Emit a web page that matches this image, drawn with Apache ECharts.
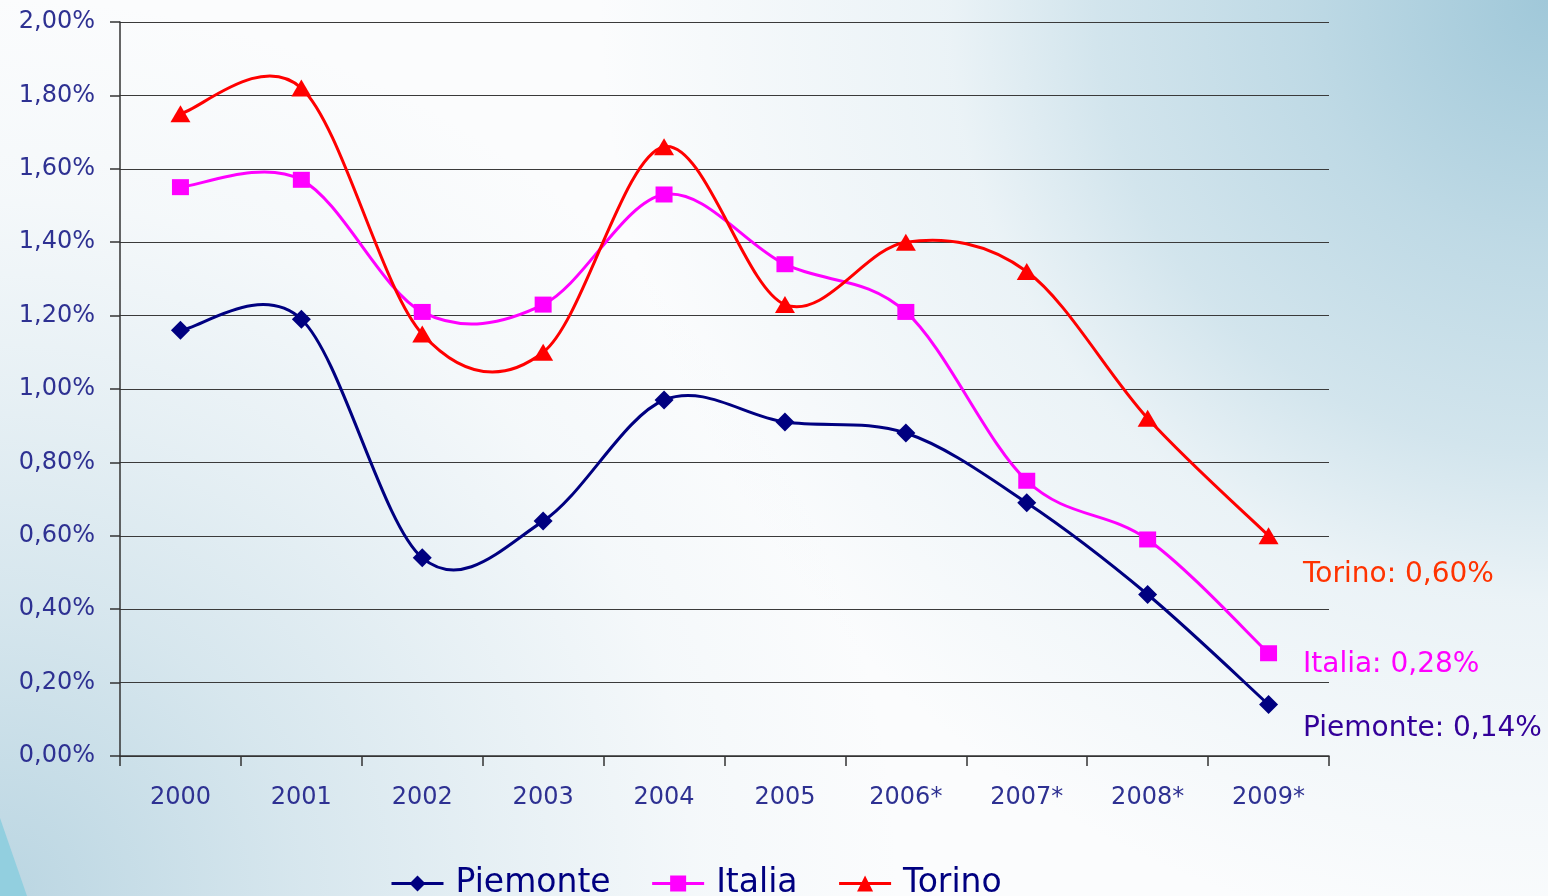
<!DOCTYPE html>
<html>
<head>
<meta charset="utf-8">
<script src="https://cdn.jsdelivr.net/npm/echarts@6/dist/echarts.min.js"></script>
<style>
html,body{margin:0;padding:0;width:1548px;height:896px;overflow:hidden;background:#fff;}
#chart{width:1548px;height:896px;}
</style>
</head>
<body>
<div id="chart"></div>
<script>
var categories = ['2000','2001','2002','2003','2004','2005','2006*','2007*','2008*','2009*'];
var piemonte = [1.16, 1.19, 0.54, 0.64, 0.97, 0.91, 0.88, 0.69, 0.44, 0.14];
var italia   = [1.55, 1.57, 1.21, 1.23, 1.53, 1.34, 1.21, 0.75, 0.59, 0.28];
var torino   = [1.75, 1.82, 1.15, 1.10, 1.66, 1.23, 1.40, 1.32, 0.92, 0.60];
var yTicks = { min: 0, max: 2, interval: 0.2 };
var annotations = [
  { text: 'Torino: 0,60%', color: '#ff3300', y: 572 },
  { text: 'Italia: 0,28%', color: '#ff00ff', y: 662 },
  { text: 'Piemonte: 0,14%', color: '#330099', y: 726 }
];

var FONT = 'DejaVu Sans';
var COLORS = { Piemonte: '#000080', Italia: '#ff00ff', Torino: '#ff0000' };
var chart = echarts.init(document.getElementById('chart'));

function blue(a) { return 'rgba(160,200,217,' + a + ')'; }
function blue2(a) { return 'rgba(170,204,219,' + a + ')'; }

var graphics = [
  { type: 'rect', z: -10, silent: true, shape: { x: 0, y: 0, width: 1548, height: 896 },
    style: { fill: '#fbfcfd' } },
  { type: 'rect', z: -9, silent: true, shape: { x: 0, y: 0, width: 1548, height: 896 },
    style: { fill: new echarts.graphic.RadialGradient(1548, 0, 1000, [
      { offset: 0, color: blue(1) },
      { offset: 0.25, color: blue(0.66) },
      { offset: 0.45, color: blue(0.45) },
      { offset: 0.6, color: blue(0.18) },
      { offset: 0.95, color: blue(0) }], true) } },
  { type: 'rect', z: -9, silent: true, shape: { x: 0, y: 0, width: 1548, height: 896 },
    style: { fill: new echarts.graphic.RadialGradient(0, 896, 900, [
      { offset: 0, color: blue2(0.8) },
      { offset: 0.33, color: blue2(0.45) },
      { offset: 0.55, color: blue2(0.26) },
      { offset: 0.78, color: blue2(0.08) },
      { offset: 1, color: blue2(0) }], true) } },
  { type: 'polygon', z: -8, silent: true,
    shape: { points: [[0, 818], [27, 896], [0, 896]] },
    style: { fill: '#92cfdf' } }
];
annotations.forEach(function (a) {
  graphics.push({ type: 'text', left: 1303, top: a.y - 11, silent: true,
    style: { text: a.text, fill: a.color, font: '28px "' + FONT + '"' } });
});

// Excel-like smoothed curve (Catmull-Rom, tension 1/6) drawn via the axes' coords
function smoothRenderer(values, color) {
  return function (params, api) {
    if (params.dataIndex !== 0) return null;
    var pts = values.map(function (v, i) { return api.coord([i, v]); });
    var n = pts.length, children = [];
    for (var i = 0; i < n - 1; i++) {
      var p0 = pts[Math.max(i - 1, 0)], p1 = pts[i], p2 = pts[i + 1], p3 = pts[Math.min(i + 2, n - 1)];
      children.push({
        type: 'bezierCurve',
        shape: {
          x1: p1[0], y1: p1[1],
          cpx1: p1[0] + (p2[0] - p0[0]) / 6, cpy1: p1[1] + (p2[1] - p0[1]) / 6,
          cpx2: p2[0] - (p3[0] - p1[0]) / 6, cpy2: p2[1] - (p3[1] - p1[1]) / 6,
          x2: p2[0], y2: p2[1]
        },
        style: { stroke: color, lineWidth: 3, fill: null, lineJoin: 'round', lineCap: 'round' }
      });
    }
    return { type: 'group', children: children };
  };
}
function curveSeries(name, values) {
  return {
    name: name, type: 'custom', z: 1, silent: true,
    data: values.map(function (v, i) { return [i, v]; }),
    encode: { x: 0, y: 1 },
    renderItem: smoothRenderer(values, COLORS[name])
  };
}
function markerSeries(name, values, symbol, size) {
  return {
    name: name, type: 'line', data: values, z: 3,
    symbol: symbol, symbolSize: size, showAllSymbol: true,
    lineStyle: { color: COLORS[name], width: 3, opacity: 0 },
    itemStyle: { color: COLORS[name] }
  };
}

chart.setOption({
  animation: false,
  textStyle: { fontFamily: FONT },
  graphic: graphics,
  grid: { left: 120, right: 219, top: 22, bottom: 140, containLabel: false },
  legend: {
    left: 385, top: 862,
    itemWidth: 52, itemHeight: 20, itemGap: 40,
    lineStyle: { width: 3, opacity: 1 },
    textStyle: { color: '#000080', fontSize: 33, fontFamily: FONT, padding: [0, 0, 0, 7] },
    data: ['Piemonte', 'Italia', 'Torino']
  },
  xAxis: {
    type: 'category', data: categories, boundaryGap: true,
    axisLine: { lineStyle: { color: '#333', width: 1.5 } },
    axisTick: { show: true, length: 10, lineStyle: { color: '#333', width: 1.5 } },
    axisLabel: { color: '#2e3192', fontSize: 24, margin: 30, fontFamily: FONT },
    splitLine: { show: false }
  },
  yAxis: {
    type: 'value', min: yTicks.min, max: yTicks.max, interval: yTicks.interval,
    axisLine: { show: true, lineStyle: { color: '#333', width: 1.5 } },
    axisTick: { show: true, length: 10, lineStyle: { color: '#333', width: 1.5 } },
    axisLabel: { color: '#2e3192', fontSize: 24, margin: 25, fontFamily: FONT,
      formatter: function (v) { return v.toFixed(2).replace('.', ',') + '%'; } },
    splitLine: { show: true, lineStyle: { color: '#3a3a3a', width: 1.2 } }
  },
  series: [
    markerSeries('Piemonte', piemonte, 'diamond', 19),
    markerSeries('Italia', italia, 'rect', [17, 16]),
    markerSeries('Torino', torino, 'triangle', [20, 17]),
    curveSeries('Piemonte', piemonte),
    curveSeries('Italia', italia),
    curveSeries('Torino', torino)
  ]
});
</script>
</body>
</html>
